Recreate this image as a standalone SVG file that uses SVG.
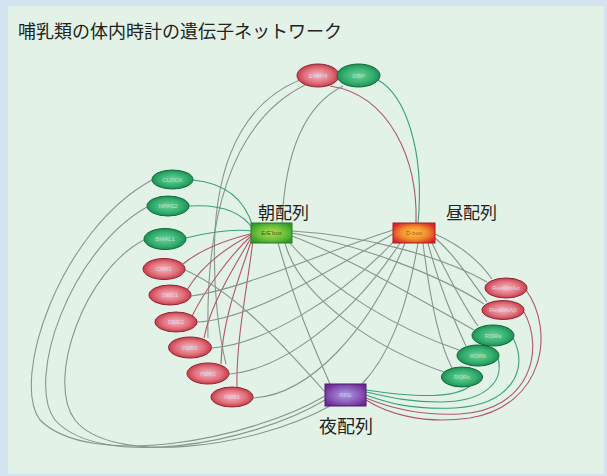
<svg xmlns="http://www.w3.org/2000/svg" width="607" height="476" viewBox="0 0 607 476">
<defs>
<radialGradient id="gRed" cx="50%" cy="50%" r="55%"><stop offset="0" stop-color="#f4b8c0"/><stop offset="0.6" stop-color="#e0707c"/><stop offset="1" stop-color="#c42c3c"/></radialGradient>
<radialGradient id="gGrn" cx="50%" cy="50%" r="55%"><stop offset="0" stop-color="#6cd09a"/><stop offset="0.6" stop-color="#36b070"/><stop offset="1" stop-color="#17874c"/></radialGradient>
<radialGradient id="gE" cx="50%" cy="50%" r="60%"><stop offset="0" stop-color="#b8dc50"/><stop offset="0.6" stop-color="#68be38"/><stop offset="1" stop-color="#2e9a2c"/></radialGradient>
<radialGradient id="gD" cx="50%" cy="50%" r="60%"><stop offset="0" stop-color="#f8d040"/><stop offset="0.55" stop-color="#f08a2c"/><stop offset="1" stop-color="#d8242a"/></radialGradient>
<radialGradient id="gR" cx="50%" cy="50%" r="60%"><stop offset="0" stop-color="#a9a0e0"/><stop offset="0.6" stop-color="#8a58b8"/><stop offset="1" stop-color="#6a2890"/></radialGradient>
</defs>
<style>
.c{fill:none;stroke-width:1.1}
.g{stroke:#87958f}
.t{stroke:#3aa07c}
.r{stroke:#b05868}
.er{fill:url(#gRed);stroke:#8a2a34;stroke-width:1}
.eg{fill:url(#gGrn);stroke:#0e6a3a;stroke-width:1}
.lbl{font-family:"Liberation Sans",Arial,sans-serif;font-size:6px;text-anchor:middle}
.lr{fill:#d8d4e4}
.lg{fill:#b8e4c8}
.big{font-family:"Noto Sans CJK JP","Noto Sans CJK SC",sans-serif;fill:#222}
</style>
<rect x="0" y="0" width="607" height="476" fill="#d4e5f1"/>
<rect x="8" y="6" width="596" height="468" fill="#e2f2e7"/>
<text class="big" x="18" y="38" font-size="18">哺乳類の体内時計の遺伝子ネットワーク</text>
<g id="connectors">
<path class="c t" d="M378,80 C405,95 425,150 418,223"/>
<path class="c r" d="M330,86 C390,95 418,160 416,223"/>
<path class="c g" d="M282,223 C285,150 305,105 343,86"/>
<path class="c g" d="M305,85 C245,115 205,190 208,338"/>
<path class="c g" d="M300,80 C250,100 220,150 215,230 C212,290 220,340 226,364"/>
<path class="c t" d="M193,180 C225,183 245,200 253,227"/>
<path class="c t" d="M189,206 C220,204 242,212 253,229"/>
<path class="c t" d="M186,238 C210,232 235,229 253,231"/>
<path class="c r" d="M254,233 C225,240 200,250 183,264"/>
<path class="c r" d="M254,233 C225,248 200,268 187,290"/>
<path class="c r" d="M254,233 C230,255 205,290 192,316"/>
<path class="c r" d="M254,233 C235,265 210,305 204,338"/>
<path class="c r" d="M254,233 C240,275 222,320 221,364"/>
<path class="c r" d="M254,233 C247,290 236,340 237,387"/>
<path class="c g" d="M292,231 C360,235 440,255 487,282"/>
<path class="c g" d="M292,233 C360,245 440,275 484,304"/>
<path class="c g" d="M292,236 C350,258 420,300 474,330"/>
<path class="c g" d="M290,243 C330,290 400,330 459,350"/>
<path class="c g" d="M285,243 C300,300 380,350 444,372"/>
<path class="c g" d="M278,243 C300,320 320,360 330,384"/>
<path class="c g" d="M395,240 C340,300 260,345 212,348"/>
<path class="c g" d="M400,243 C350,320 280,370 229,374"/>
<path class="c g" d="M405,243 C370,330 310,395 253,398"/>
<path class="c g" d="M393,230 C330,250 240,290 191,296"/>
<path class="c g" d="M393,234 C330,270 250,320 197,322"/>
<path class="c g" d="M418,243 C405,320 385,360 362,384"/>
<path class="c g" d="M435,234 C460,245 480,262 492,279"/>
<path class="c g" d="M435,238 C455,255 472,282 487,302"/>
<path class="c g" d="M432,243 C450,280 465,308 478,326"/>
<path class="c g" d="M428,243 C440,290 455,322 466,346"/>
<path class="c g" d="M423,243 C430,300 440,345 452,368"/>
<path class="c r" d="M526,290 C555,330 545,405 470,418 C420,425 385,412 366,400"/>
<path class="c r" d="M524,312 C545,350 530,410 460,414 C415,416 385,406 366,398"/>
<path class="c t" d="M513,338 C530,370 510,405 455,408 C410,410 385,402 366,395"/>
<path class="c t" d="M498,358 C505,385 480,402 440,402 C405,402 385,396 366,392"/>
<path class="c t" d="M470,386 C455,398 420,398 366,390"/>
<path class="c g" d="M325,392 C270,330 230,290 185,270"/>
<path class="c g" d="M325,396 C250,440 90,470 40,420 C10,380 60,230 152,180"/>
<path class="c g" d="M325,400 C250,445 100,470 55,420 C25,380 70,250 147,207"/>
<path class="c g" d="M330,406 C250,450 110,465 75,420 C45,380 85,270 144,240"/>
</g>
<g id="E4BP4"><ellipse class="er" cx="318" cy="75.5" rx="21" ry="11.5"/><text class="lbl lr" x="318" y="77.5">E4BP4</text></g>
<g id="DBP"><ellipse class="eg" cx="358.5" cy="75.5" rx="21.5" ry="11.5"/><text class="lbl lg" x="358.5" y="77.5">DBP</text></g>
<g id="CLOCK"><ellipse class="eg" cx="172.5" cy="179.5" rx="20.5" ry="9.5"/><text class="lbl lg" x="172.5" y="181.5">CLOCK</text></g>
<g id="NPAS2"><ellipse class="eg" cx="168" cy="206" rx="21" ry="10"/><text class="lbl lg" x="168" y="208">NPAS2</text></g>
<g id="BMAL1"><ellipse class="eg" cx="165" cy="239" rx="21" ry="10.5"/><text class="lbl lg" x="165" y="241">BMAL1</text></g>
<g id="CRY1"><ellipse class="er" cx="164" cy="269" rx="21" ry="10.5"/><text class="lbl lr" x="164" y="271">CRY1</text></g>
<g id="DEC1"><ellipse class="er" cx="170" cy="295" rx="21" ry="10"/><text class="lbl lr" x="170" y="297">DEC1</text></g>
<g id="DEC2"><ellipse class="er" cx="176" cy="322" rx="21" ry="10"/><text class="lbl lr" x="176" y="324">DEC2</text></g>
<g id="PER1"><ellipse class="er" cx="190" cy="347.5" rx="21.5" ry="10.5"/><text class="lbl lr" x="190" y="349.5">PER1</text></g>
<g id="PER2"><ellipse class="er" cx="208" cy="373.5" rx="21" ry="10.5"/><text class="lbl lr" x="208" y="375.5">PER2</text></g>
<g id="PER3"><ellipse class="er" cx="232" cy="397" rx="21" ry="10"/><text class="lbl lr" x="232" y="399">PER3</text></g>
<g id="RevErbAa"><ellipse class="er" cx="506" cy="288" rx="21" ry="10"/><text class="lbl lr" x="506" y="290">RevErbAα</text></g>
<g id="RevErbAb"><ellipse class="er" cx="503" cy="310" rx="21" ry="9.5"/><text class="lbl lr" x="503" y="312">RevErbAβ</text></g>
<g id="RORa"><ellipse class="eg" cx="493" cy="335.5" rx="21" ry="10.5"/><text class="lbl lg" x="493" y="337.5">RORa</text></g>
<g id="RORb"><ellipse class="eg" cx="478" cy="355.5" rx="21" ry="10.5"/><text class="lbl lg" x="478" y="357.5">RORb</text></g>
<g id="RORc"><ellipse class="eg" cx="462" cy="377" rx="20.5" ry="10"/><text class="lbl lg" x="462" y="379">RORc</text></g>
<g id="Ebox"><rect x="251" y="223" width="41" height="20" fill="url(#gE)" stroke="#2a7a22"/><text class="lbl" x="271.5" y="235" fill="#3a5a1a">E/E'box</text></g>
<g id="Dbox"><rect x="393" y="223" width="42" height="20" fill="url(#gD)" stroke="#a02020"/><text class="lbl" x="414" y="235" fill="#b04020">D-box</text></g>
<g id="RRE"><rect x="325" y="384" width="41" height="22" fill="url(#gR)" stroke="#4a1a70"/><text class="lbl" x="345.5" y="397" fill="#c8c0e8">RRE</text></g>
<text class="big" x="258" y="219" font-size="17">朝配列</text>
<text class="big" x="446" y="219" font-size="17">昼配列</text>
<text class="big" x="319" y="433" font-size="18">夜配列</text>
</svg>
